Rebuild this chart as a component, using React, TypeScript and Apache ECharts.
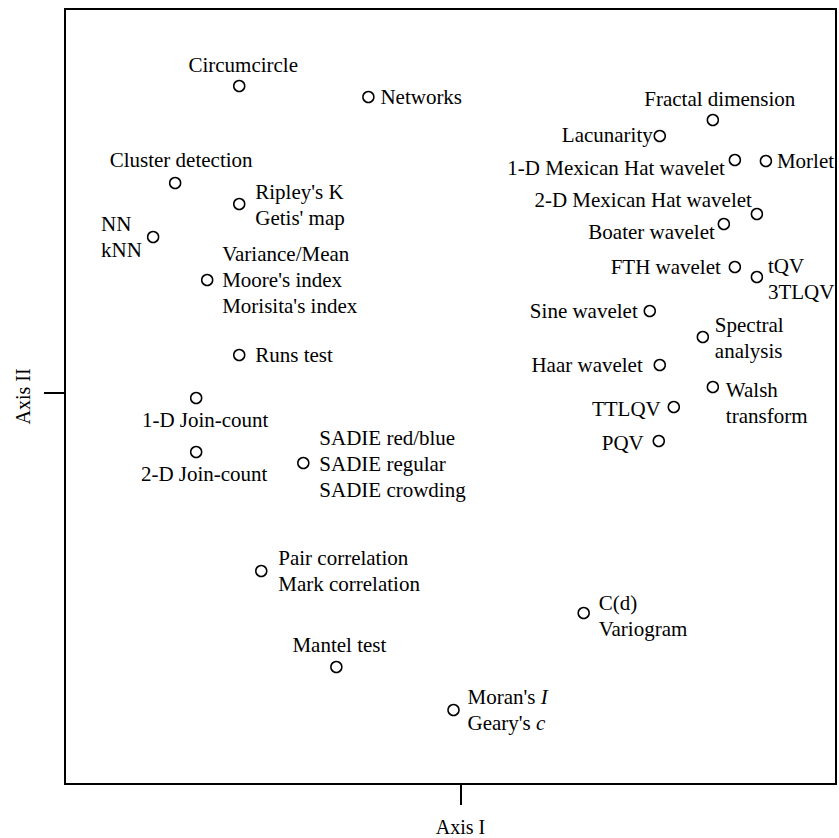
import React, { useEffect, useRef } from "react";
import * as echarts from "echarts";

// Method names (labels of the ordination points)
const methods = [
  "Circumcircle",
  "Networks",
  "Cluster detection",
  "Ripley's K\nGetis' map",
  "NN\nkNN",
  "Variance/Mean\nMoore's index\nMorisita's index",
  "Runs test",
  "1-D Join-count",
  "2-D Join-count",
  "SADIE red/blue\nSADIE regular\nSADIE crowding",
  "Pair correlation\nMark correlation",
  "Mantel test",
  "Moran's {i|I}\nGeary's {i|c}",
  "C(d)\nVariogram",
  "Fractal dimension",
  "Lacunarity",
  "1-D Mexican Hat wavelet",
  "Morlet",
  "2-D Mexican Hat wavelet",
  "Boater wavelet",
  "FTH wavelet",
  "tQV\n3TLQV",
  "Sine wavelet",
  "Spectral\nanalysis",
  "Haar wavelet",
  "Walsh\ntransform",
  "TTLQV",
  "PQV",
];

// Scores on Axis I
const axisI = [
  -2.21, -0.92, -2.85, -2.21, -3.07, -2.53, -2.21, -2.64, -2.64, -1.57,
  -1.99, -1.24, -0.07, 1.23, 2.52, 1.99, 2.74, 3.05, 2.96, 2.63, 2.74,
  2.96, 1.89, 2.42, 1.99, 2.52, 2.13, 1.98,
];

// Scores on Axis II
const axisII = [
  3.07, 2.96, 2.1, 1.89, 1.56, 1.13, 0.38, -0.05, -0.59, -0.7, -1.78,
  -2.74, -3.17, -2.2, 2.73, 2.57, 2.33, 2.32, 1.79, 1.69, 1.26, 1.16,
  0.82, 0.56, 0.28, 0.06, -0.14, -0.48,
];

// Axis extents and the single tick on each axis
const axisIRange = [-3.95, 3.75];
const axisIIRange = [-3.91, 3.84];
const tickValues = [0];

// Label placement (style only): [dx, dy, align]
const labelPlacement: [number, number, string][] = [
  [4, -21, "center"],
  [12, 0, "left"],
  [6, -23, "center"],
  [16, 1, "left"],
  [-52, 0, "left"],
  [15, 0, "left"],
  [16, 0, "left"],
  [9, 22, "center"],
  [8, 22, "center"],
  [16, 1, "left"],
  [17, 0, "left"],
  [3, -22, "center"],
  [14, 0, "left"],
  [15, 3, "left"],
  [7, -21, "center"],
  [-7, -1, "right"],
  [-10, 8, "right"],
  [11, 0, "left"],
  [-5, -14, "right"],
  [-9, 8, "right"],
  [-14, 0, "right"],
  [11, 2, "left"],
  [-12, 0, "right"],
  [12, 1, "left"],
  [-17, 0, "right"],
  [13, 16, "left"],
  [-13, 2, "right"],
  [-15, 2, "right"],
];

const FONT = "'Liberation Serif', 'Times New Roman', serif";

export default function App() {
  const ref = useRef<HTMLDivElement>(null);

  useEffect(() => {
    if (!ref.current) return;
    const chart = echarts.init(ref.current, undefined, { renderer: "svg" });

    const data = methods.map((name, i) => {
      const [dx, dy, align] = labelPlacement[i];
      return {
        name,
        value: [axisI[i], axisII[i]],
        label: {
          show: true,
          position: "inside",
          offset: [dx, dy],
          align,
          verticalAlign: "middle",
          formatter: name,
        },
      };
    });

    chart.setOption({
      animation: false,
      backgroundColor: "#fff",
      grid: {
        left: 65,
        top: 9,
        width: 771,
        height: 775,
        outerBoundsMode: "none",
        containLabel: false,
        show: true,
        borderColor: "#000",
        borderWidth: 2,
        backgroundColor: "transparent",
      },
      xAxis: {
        type: "value",
        min: axisIRange[0],
        max: axisIRange[1],
        name: "Axis I",
        nameLocation: "middle",
        nameGap: 33,
        nameTextStyle: {
          fontFamily: FONT,
          fontSize: 20,
          color: "#000",
          padding: [0, 0, 0, 20],
        },
        axisLine: { show: true, onZero: false, lineStyle: { color: "#000", width: 2 } },
        axisTick: {
          show: true,
          customValues: tickValues,
          length: 21,
          lineStyle: { color: "#000", width: 2 },
        },
        axisLabel: { show: false },
        splitLine: { show: false },
      },
      yAxis: {
        type: "value",
        min: axisIIRange[0],
        max: axisIIRange[1],
        name: "Axis II",
        nameLocation: "middle",
        nameGap: 32,
        nameRotate: 90,
        nameTextStyle: { fontFamily: FONT, fontSize: 20, color: "#000" },
        axisLine: { show: true, onZero: false, lineStyle: { color: "#000", width: 2 } },
        axisTick: {
          show: true,
          customValues: tickValues,
          length: 21,
          lineStyle: { color: "#000", width: 2 },
        },
        axisLabel: { show: false },
        splitLine: { show: false },
      },
      series: [
        {
          type: "scatter",
          symbol: "circle",
          symbolSize: 11,
          itemStyle: { color: "#fff", borderColor: "#000", borderWidth: 1.5, opacity: 1 },
          emphasis: { disabled: true },
          label: {
            show: true,
            color: "#000",
            fontFamily: FONT,
            fontSize: 21,
            lineHeight: 26,
            textBorderWidth: 0,
            rich: {
              i: {
                fontStyle: "italic",
                fontFamily: FONT,
                fontSize: 21,
                lineHeight: 26,
                color: "#000",
              },
            },
          },
          data,
        },
      ],
    });

    return () => chart.dispose();
  }, []);

  return <div ref={ref} style={{ width: 839, height: 838, position: "absolute", left: 0, top: 0 }} />;
}
